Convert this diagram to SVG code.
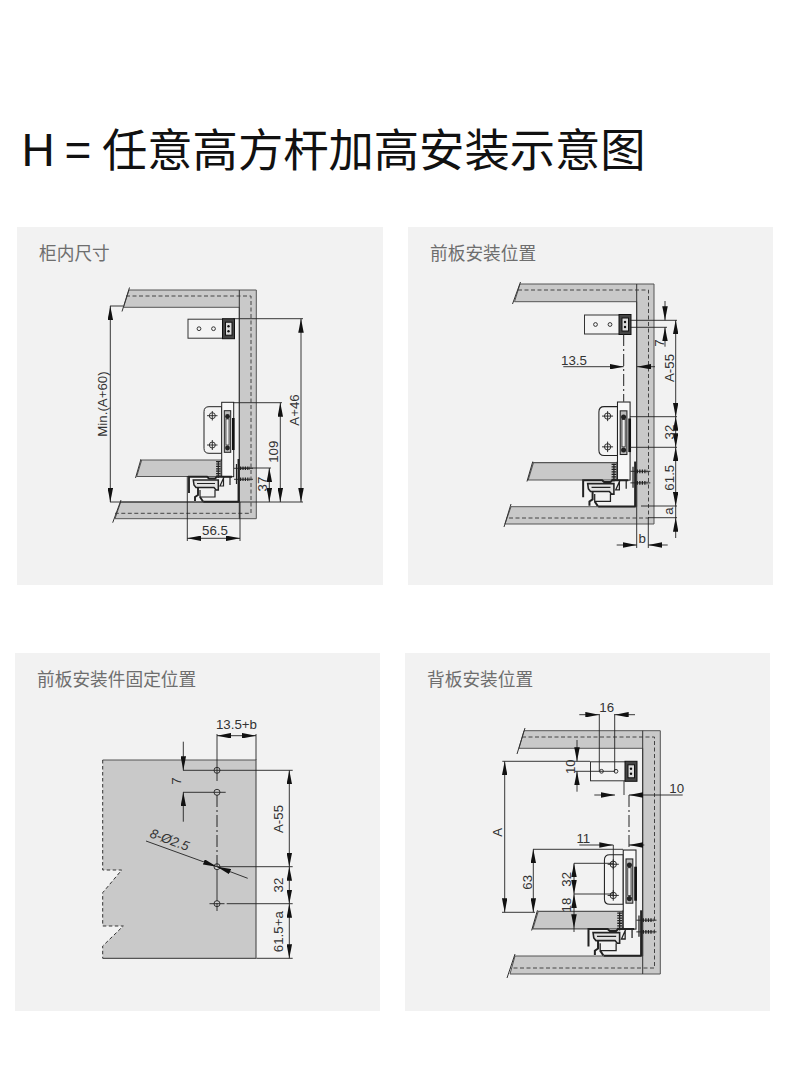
<svg xmlns="http://www.w3.org/2000/svg" xmlns:xlink="http://www.w3.org/1999/xlink" width="790" height="1088" viewBox="0 0 790 1088">
<style>
.bg{fill:#f2f2f2}
.title{font-family:"Noto Sans CJK SC","Liberation Sans",sans-serif;font-size:45.3px;font-weight:400;fill:#111}
.h{font-family:"Liberation Sans",Arial,sans-serif;font-size:46px;fill:#111;word-spacing:-3px}
.lab{font-family:"Noto Sans CJK SC","Liberation Sans",sans-serif;font-size:17.7px;fill:#6e6e6e}
.dt{font-family:"Liberation Sans",Arial,sans-serif;font-size:13.3px;fill:#333;text-anchor:middle}
.gr{fill:#c9c9c9;stroke:#555;stroke-width:1}
.da{fill:none;stroke:#444;stroke-width:1;stroke-dasharray:4 2.5}
.wl{fill:none;stroke:#333;stroke-width:1}
.d{fill:none;stroke:#222;stroke-width:.9}
.ar{fill:none;stroke:#222;stroke-width:.9;marker-start:url(#h);marker-end:url(#h)}
.a1{fill:none;stroke:#222;stroke-width:.9;marker-end:url(#h)}
.cl{fill:none;stroke:#222;stroke-width:1;stroke-dasharray:12 3 2 3}
.k{fill:none;stroke:#222;stroke-width:1.2}
.kf{fill:#e2e2e2;stroke:#222;stroke-width:1.5}
.kk{fill:none;stroke:#222;stroke-width:1.9}
.w{fill:#f4f4f4;stroke:#222;stroke-width:1}
.hole{fill:none;stroke:#222;stroke-width:.9}
</style>
<defs>
<marker id="h" viewBox="0 0 14 5.5" refX="14" refY="2.75" markerUnits="userSpaceOnUse" markerWidth="14" markerHeight="5.5" orient="auto-start-reverse"><path d="M0,0L14,2.75L0,5.5Z" fill="#111"/></marker>
<g id="topbracket">
<rect x="-46" y="-9.5" width="35" height="19" fill="#f4f4f4" stroke="#333"/>
<rect x="-11.5" y="-10" width="12" height="20" fill="#444" stroke="#111"/>
<rect x="-8.5" y="-6.5" width="6.5" height="13" fill="#ddd" stroke="#111"/>
<circle cx="-5.5" cy="-2.5" r="1.2" fill="#111"/><circle cx="-5.5" cy="2.5" r="1.2" fill="#111"/>
<circle cx="-35" cy="0" r="1.9" class="hole"/><circle cx="-20.5" cy="0" r="1.9" class="hole"/>
</g>
<g id="hardware">
<path class="gr" d="M-98.3,-42L-19,-42L-19,-25.5L-103.3,-25.5Z"/>
<path d="M-99,-43L-104.5,-24" class="d"/>
<path class="w" d="M-18.3,-95.3L-31,-95.3Q-36,-95.3-36,-90.3L-36,-53.7Q-36,-48.7-31,-48.7L-18.3,-48.7Z"/>
<g class="hole"><circle cx="-27.7" cy="-86.3" r="3"/><circle cx="-27.7" cy="-57" r="3"/><path d="M-33,-86.3H-22.5M-27.7,-91V-81.5M-33,-57H-22.5M-27.7,-62V-52"/></g>
<path d="M-19,-42H-15.5V-26H-19" class="kk"/>
<rect x="-18.3" y="-99.7" width="12" height="74.4" fill="#f7f7f7" stroke="#222"/>
<rect x="-15.7" y="-91.3" width="6.4" height="41.6" fill="#bbb" stroke="#222"/>
<rect x="-14" y="-83" width="3" height="26" fill="#eee" stroke="#222" stroke-width=".7"/>
<circle cx="-12.5" cy="-85.5" r="2.4" fill="#222"/><circle cx="-12.5" cy="-54" r="2.4" fill="#222"/>
<rect x="-8" y="-84" width="2.6" height="32" fill="#111"/>
<path d="M-21.7,-41V-25" stroke="#222" stroke-width="4.5" stroke-dasharray="1.2 1.2" fill="none"/>
<path d="M-21.7,-41V-24" class="k"/>
<path class="kk" d="M-51,-9V-25.3H-33L-31,-23.5H-25L-23,-25.3H-8"/>
<path class="k" d="M-16,-25L-20,-16H-16.5V-24M-10,-25V-17"/>
<path class="kf" d="M-46.7,-22H-21.7V-12L-24,-12L-26,-14.5H-44L-46,-17Z"/>
<path class="k" d="M-43,-18.5H-25M-40,-12V-5H-25V-12"/>
<path class="kk" d="M-42,-14V-7L-45,-5V-1M-40,-5L-37,-.5"/>
<path class="kk" d="M-36.7,-.3H-1"/>
<path class="kk" d="M-1.5,0V-43"/>
<path class="k" d="M-3.5,-38V-18"/>
<path stroke="#222" stroke-width="3.5" stroke-dasharray="1.2 1.2" fill="none" d="M0,-33.7H10M0,-22.7H10"/>
<path class="d" d="M-6,-33.7H13M-6,-22.7H13"/>
</g>
</defs>
<rect width="790" height="1088" fill="#fff"/>
<g id="title">
<text class="h" x="21.5" y="166">H = </text>
<text class="title" x="102" y="167">任意高方杆加高安装示意图</text>
</g>

<g id="panel1">
<rect class="bg" x="17" y="227" width="366" height="358"/>
<text class="lab" x="39" y="260">柜内尺寸</text>
<g id="cabinet1">
<path class="gr" d="M129,290H256.3V518.7H115L120.7,502H239.3V307.3H123.5Z"/>
<path class="da" d="M126,296H251V513.3H115"/>
<path class="wl" d="M239.3,290V518.7M129.5,287.5L122,311.5M121,500L112.7,522.7"/>
</g>
<use xlink:href="#topbracket" href="#topbracket" x="234" y="328.7"/>
<use xlink:href="#hardware" href="#hardware" transform="translate(240 502)"/>
</g>

<g id="panel2">
<rect class="bg" x="408" y="227" width="365" height="358"/>
<text class="lab" x="430" y="260">前板安装位置</text>
<g id="cabinet2">
<path class="gr" d="M520,284H654V524H505L511,506.7H636.7V301.7H514.5Z"/>
<path class="da" d="M518,290H648.5V518H506"/>
<path class="wl" d="M636.7,284V524M520.5,282L512.5,304M511,504L504,527"/>
</g>
<use xlink:href="#topbracket" href="#topbracket" x="630.5" y="324.5"/>
<use xlink:href="#hardware" href="#hardware" transform="translate(636.7 506.7) scale(1.05)"/>
</g>

<g id="panel3">
<rect class="bg" x="15" y="653" width="365" height="358"/>
<text class="lab" x="37" y="686">前板安装件固定位置</text>
<path id="plate" fill="#c9c9c9" stroke="none" d="M102.7,760H256V958.3H102.7V946L123.3,926H102.7V892.7L121.7,870H102.7Z"/>
<path d="M102.7,760H256V958.3H102.7" fill="none" stroke="#555" stroke-width="1.2"/>
<path fill="none" stroke="#333" stroke-dasharray="3.5 2.5" d="M102.7,760V870H121.7L102.7,892.7V926H123.3L102.7,946V958.3"/>
<g id="holes" class="hole">
<circle cx="217" cy="770.3" r="3"/><circle cx="217" cy="792.3" r="3"/><circle cx="217" cy="866.7" r="3"/><circle cx="217" cy="903.7" r="3"/>
<path d="M209.5,903.7H224.5"/>
</g>
</g>

<g id="panel4">
<rect class="bg" x="405" y="653" width="365" height="358"/>
<text class="lab" x="427" y="686">背板安装位置</text>
<g id="cabinet4">
<path class="gr" d="M524,730.7H660.3V974H510L515,956H642.7V748.3H519Z"/>
<path class="da" d="M522,737H654.5V968H510"/>
<path class="wl" d="M642.7,730.7V974M525,728L517,754M515,954L507,978"/>
</g>
<use xlink:href="#topbracket" href="#topbracket" x="636.5" y="771.3"/>
<use xlink:href="#hardware" href="#hardware" transform="translate(642.7 956) scale(1.063)"/>
</g>

<g id="connectors">
<!-- panel 1 -->
<path class="d" d="M110,306H123M110,502H303M233,318.7H303M233,402.7H282M240,468H271M187.3,476V541M240,502V541"/>
<path class="ar" d="M110.3,306V502"/>
<path class="ar" d="M301,318.7V502"/>
<path class="ar" d="M280.3,402.7V502"/>
<path class="ar" d="M269.3,468V502"/>
<path class="ar" d="M187.3,538.3H240"/>
<text class="dt" transform="translate(107 404) rotate(-90)">Min.(A+60)</text>
<text class="dt" transform="translate(299 410) rotate(-90)">A+46</text>
<text class="dt" transform="translate(278 451.7) rotate(-90)">109</text>
<text class="dt" transform="translate(267 484) rotate(-90)">37</text>
<text class="dt" x="215" y="535">56.5</text>
<!-- panel 2 -->
<path class="d" d="M630,320.3H677M630,327.3H667M630,416.7H677M630,447.3H677M641,506H677M648,517.7H677M636.7,524V548M648.3,518V548"/>
<path class="a1" d="M665,301V320.3"/>
<path class="a1" d="M665,346.7V327.3"/>
<path class="ar" d="M675.7,320.3V416.7"/>
<path class="ar" d="M675.7,416.7V447.3"/>
<path class="ar" d="M675.7,447.3V506"/>
<path class="a1" d="M675.7,538V517.7"/>
<path class="d" d="M675.7,506V518"/>
<path class="a1" d="M563.3,366.7H623.7"/>
<path class="a1" d="M655,366.7H637"/>
<path class="cl" d="M623.7,334V401.7"/>
<path class="a1" d="M616.7,545H636.7"/>
<path class="a1" d="M667.7,545H648.3"/>
<text class="dt" transform="translate(664 343) rotate(-90)">7</text>
<text class="dt" transform="translate(674 368) rotate(-90)">A-55</text>
<text class="dt" transform="translate(673.5 432) rotate(-90)">32</text>
<text class="dt" transform="translate(673.5 477.7) rotate(-90)">61.5</text>
<text class="dt" transform="translate(672.5 511) rotate(-90)">a</text>
<text class="dt" x="574" y="365">13.5</text>
<text class="dt" x="642.3" y="542.7">b</text>
<!-- panel 3 -->
<path class="d" d="M217,734V781M256,734V760M183,770.3H292.7M183,792.3H225.7M217,866.7H292.7M226.7,903.7H292.7M256.7,958.3H292.7M217,903V911"/>
<path class="cl" d="M217,795V866"/>
<path class="d" d="M217,870V901"/>
<path class="ar" d="M217,735.7H256"/>
<path class="a1" d="M183.3,741.7V770.3"/>
<path class="a1" d="M183.3,821.7V792.3"/>
<path class="ar" d="M289.3,770.3V866.7"/>
<path class="ar" d="M289.3,866.7V903.7"/>
<path class="ar" d="M289.3,903.7V958.3"/>
<path class="a1" d="M146,841L217,866.7"/>
<path class="a1" d="M247.7,878.3L217,866.7"/>
<text class="dt" transform="translate(181 781) rotate(-90)">7</text>
<text class="dt" transform="translate(282.7 819) rotate(-90)">A-55</text>
<text class="dt" transform="translate(282.7 885) rotate(-90)">32</text>
<text class="dt" transform="translate(282.7 931.7) rotate(-90)">61.5+a</text>
<text class="dt" x="236.5" y="729">13.5+b</text>
<text class="dt" font-style="italic" transform="translate(168 844) rotate(20)">8-Ø2.5</text>
<!-- panel 4 -->
<path class="d" d="M599.3,714V771.3M614.7,714V771.3M502.3,761.3H590M575,771.3H615M502,912.3H535M624,781V795M533,849.3H623M613.3,845V896.7M574,863.3H613M574,894H613"/>
<path class="a1" d="M579.3,714.7H599.3"/>
<path class="a1" d="M635,714.7H614.7"/>
<path class="a1" d="M577,740V761.3"/>
<path class="a1" d="M577,791.7V771.3"/>
<path class="ar" d="M504.7,761.3V912.3"/>
<path class="a1" d="M594.3,795H615"/>
<path class="a1" d="M682.7,795H629"/>
<path class="cl" d="M629,795V850"/>
<path class="a1" d="M579.3,845H613.3"/>
<path class="a1" d="M644.3,845H629"/>
<path class="ar" d="M533.3,849.3V912.3"/>
<path class="ar" d="M574,863.3V894"/>
<path class="ar" d="M574,894V928.3"/>
<path class="d" d="M574,928V932"/>
<text class="dt" x="606.7" y="711.7">16</text>
<text class="dt" transform="translate(575 766.7) rotate(-90)">10</text>
<text class="dt" transform="translate(501.7 832.3) rotate(-90)">A</text>
<text class="dt" x="676.7" y="793">10</text>
<text class="dt" x="583.3" y="843.3">11</text>
<text class="dt" transform="translate(531.7 882.3) rotate(-90)">63</text>
<text class="dt" transform="translate(571 879.3) rotate(-90)">32</text>
<text class="dt" transform="translate(571 905) rotate(-90)">18</text>
</g>
</svg>
